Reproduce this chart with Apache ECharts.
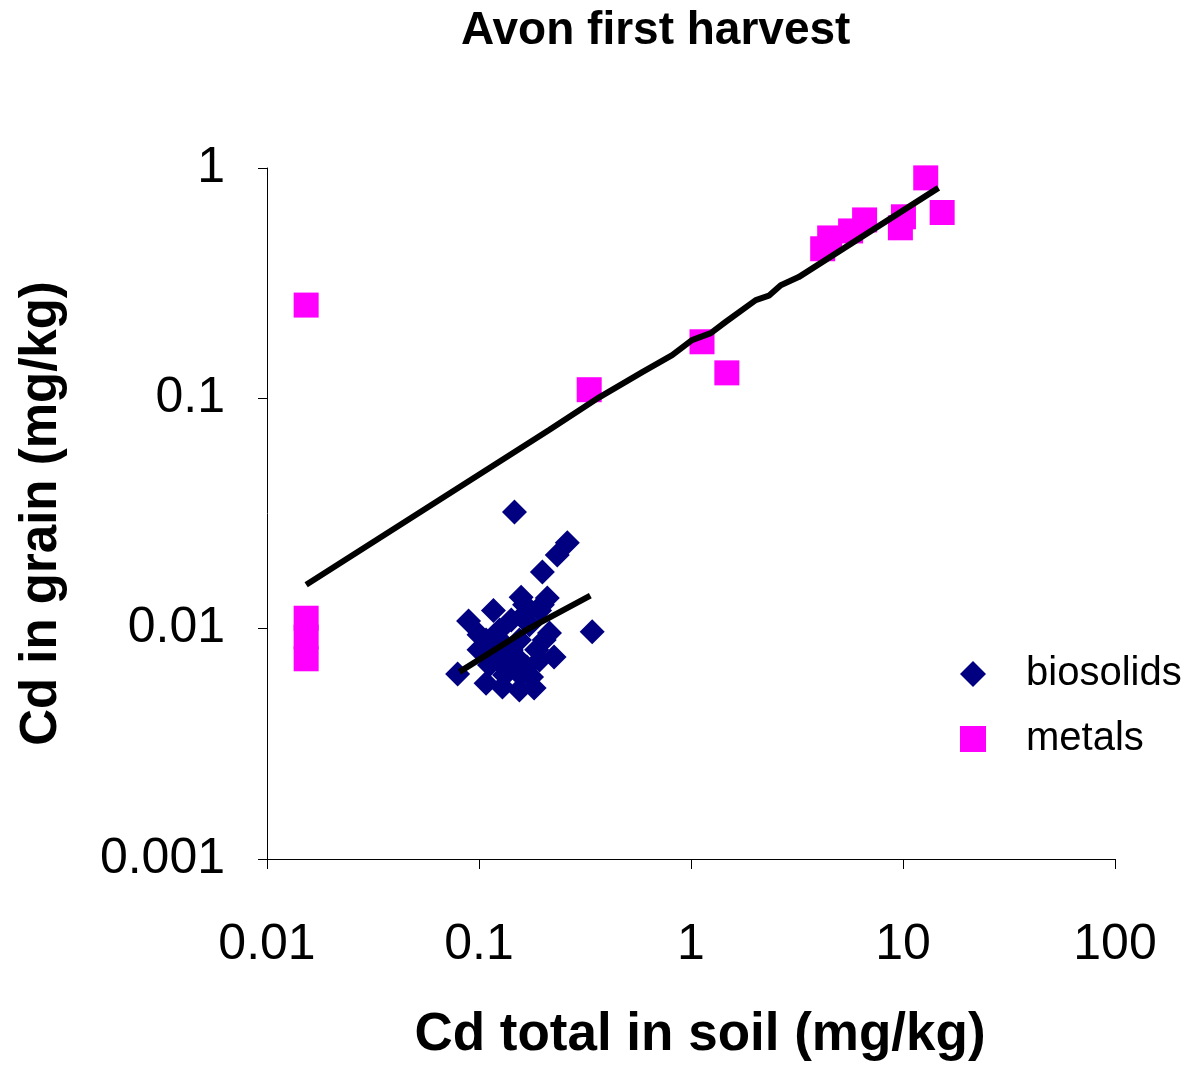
<!DOCTYPE html>
<html>
<head>
<meta charset="utf-8">
<style>
  html, body { margin: 0; padding: 0; background: #fff; }
  #chartBox { width: 1189px; height: 1065px; }
</style>
<script src="https://cdn.jsdelivr.net/npm/echarts@6/dist/echarts.min.js"></script>
</head>
<body>
<div id="chartBox"></div>
<script>
/**
 * Avon first harvest - Cd grain vs soil
 */
var chartTitle = 'Avon first harvest';
var xName = 'Cd total in soil (mg/kg)';
var yName = 'Cd in grain (mg/kg)';
var xTickLabels = ['0.01', '0.1', '1', '10', '100'];
var yTickLabels = ['0.001', '0.01', '0.1', '1'];
var seriesNames = ['biosolids', 'metals'];

// [soil, grain]
var biosolidsData = [
    [0.147, 0.0321], [0.261, 0.0236], [0.234, 0.0209], [0.199, 0.0176],
    [0.342, 0.0097], [0.0793, 0.00635], [0.117, 0.0120], [0.0893, 0.0108],
    [0.158, 0.0137], [0.199, 0.0127], [0.226, 0.00753], [0.108, 0.00580],
    [0.129, 0.00558], [0.177, 0.00617], [0.193, 0.0120], [0.215, 0.00958],
    [0.150, 0.00753], [0.135, 0.00834], [0.168, 0.00682], [0.108, 0.00893],
    [0.173, 0.0104], [0.142, 0.0109], [0.122, 0.00731], [0.187, 0.00809],
    [0.155, 0.00542], [0.100, 0.00809], [0.164, 0.0127], [0.203, 0.00893],
    [0.100, 0.00940], [0.158, 0.00624], [0.193, 0.00731], [0.139, 0.00662],
    [0.125, 0.00986], [0.155, 0.00893], [0.182, 0.00553], [0.132, 0.00630],
    [0.112, 0.00695], [0.168, 0.0118], [0.210, 0.0136], [0.142, 0.00808],
    [0.118, 0.00824]
];
var metalsData = [
    [0.0153, 0.254], [0.0153, 0.0111], [0.0153, 0.0092], [0.0153, 0.0074],
    [0.331, 0.109], [1.127, 0.176], [1.476, 0.129],
    [4.18, 0.446], [4.51, 0.497], [5.66, 0.533], [6.59, 0.595],
    [9.72, 0.550], [10.05, 0.614], [12.8, 0.906], [15.3, 0.641]
];
// trend lines as drawn
var metalsTrend = [
    [0.0153, 0.0155], [0.215, 0.073], [0.369, 0.101], [0.589, 0.130],
    [0.815, 0.154], [1.01, 0.179], [1.24, 0.192], [1.46, 0.215],
    [2.02, 0.267], [2.33, 0.279], [2.65, 0.31], [3.22, 0.336], [14.7, 0.82]
];
var biosolidsTrend = [
    [0.0809, 0.00649], [0.165, 0.0098], [0.335, 0.0139]
];

var FONT = '"Liberation Sans", Arial, sans-serif';

function getParams(){
    return {
        backgroundColor: '#ffffff',
        animation: false,
        title: {
            text: chartTitle,
            left: 456,
            top: 3,
            textStyle: {
                fontFamily: FONT,
                fontSize: 46,
                fontWeight: 'bold',
                color: '#000'
            }
        },
        legend: {
            orient: 'vertical',
            left: 955,
            top: 649,
            itemWidth: 26,
            itemHeight: 26,
            itemGap: 25,
            data: seriesNames,
            textStyle: {
                fontFamily: FONT,
                fontSize: 40,
                color: '#000',
                padding: [0, 0, 0, 35]
            }
        },
        grid: {
            left: 267,
            right: 74,
            top: 168,
            bottom: 206,
            outerBoundsMode: 'none'
        },
        xAxis: {
            type: 'log',
            logBase: 10,
            min: 0.01,
            max: 100,
            name: xName,
            nameLocation: 'middle',
            nameGap: 150,
            nameTextStyle: {
                fontFamily: FONT,
                fontSize: 53,
                fontWeight: 'bold',
                color: '#000',
                padding: [0, 0, 0, 18]
            },
            axisLine: { lineStyle: { color: '#000', width: 1 } },
            axisTick: { inside: false, length: 10, lineStyle: { color: '#000' } },
            axisLabel: {
                margin: 61,
                fontFamily: FONT,
                fontSize: 50,
                color: '#000',
                formatter: function(v, i){ return xTickLabels[i]; }
            },
            splitLine: { show: false },
            minorTick: { show: false }
        },
        yAxis: {
            type: 'log',
            logBase: 10,
            min: 0.001,
            max: 1,
            name: yName,
            nameLocation: 'middle',
            nameGap: 200,
            nameTextStyle: {
                fontFamily: FONT,
                fontSize: 51,
                fontWeight: 'bold',
                color: '#000'
            },
            axisLine: { show: true, lineStyle: { color: '#000', width: 1 } },
            axisTick: { show: true, inside: false, length: 9, lineStyle: { color: '#000' } },
            axisLabel: {
                margin: 42,
                fontFamily: FONT,
                fontSize: 50,
                color: '#000',
                formatter: function(v, i){ return yTickLabels[i]; }
            },
            splitLine: { show: false }
        },
        series: [
            {
                name: seriesNames[0],
                type: 'scatter',
                symbol: 'diamond',
                symbolSize: 25,
                itemStyle: { color: '#000080', opacity: 1 },
                data: biosolidsData,
                z: 2
            },
            {
                name: seriesNames[1],
                type: 'scatter',
                symbol: 'rect',
                symbolSize: 25,
                itemStyle: { color: '#ff00ff', opacity: 1 },
                data: metalsData,
                z: 2
            },
            {
                name: 'metals trend',
                type: 'line',
                data: metalsTrend,
                showSymbol: false,
                symbol: 'none',
                lineStyle: { color: '#000', width: 6 },
                z: 3
            },
            {
                name: 'biosolids trend',
                type: 'line',
                data: biosolidsTrend,
                showSymbol: false,
                symbol: 'none',
                lineStyle: { color: '#000', width: 6 },
                z: 3
            }
        ]
    };
}

var _chart = echarts.init(document.getElementById('chartBox'));
_chart.setOption(getParams());
</script>
</body>
</html>
